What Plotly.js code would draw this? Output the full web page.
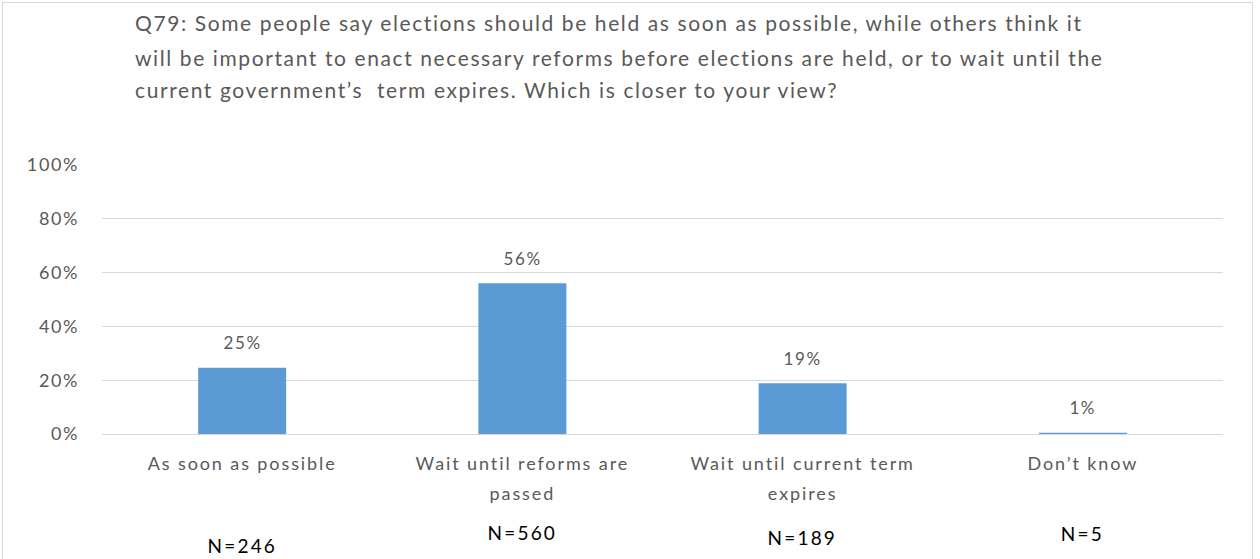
<!DOCTYPE html>
<html>
<head>
<meta charset="utf-8">
<script src="https://cdn.plot.ly/plotly-3.0.1.min.js"></script>
<style>
  html, body { margin: 0; padding: 0; background: #fff; }
  #wrap { position: relative; width: 1260px; height: 559px; overflow: hidden; }
  #chart { position: absolute; left: 0; top: 0; width: 1260px; height: 559px; }
  #frame { position: absolute; left: 2px; top: 2px; width: 1249px; height: 600px; border: 1px solid #d9d9d9; pointer-events: none; }
  #chart .xtick text { letter-spacing: 1.9px; }
  #chart .ytick text { letter-spacing: 1.6px; }
  #chart .annotation-text { letter-spacing: 1.6px; }
</style>
</head>
<body>
<div id="wrap">
  <div id="chart"></div>
  <div id="frame"></div>
</div>
<script>
const titleLines = [
  "Q79: Some people say elections should be held as soon as possible, while others think it",
  "will be important to enact necessary reforms before elections are held, or to wait until the",
  "current government\u2019s  term expires. Which is closer to your view?"
];
const categories = [
  "As soon as possible",
  "Wait until reforms are<br>passed",
  "Wait until current term<br>expires",
  "Don\u2019t know"
];
const sampleCounts = [246, 560, 189, 5];
const sampleLabels = ["N=246", "N=560", "N=189", "N=5"];
// shares in percent (N / 1000), shown rounded in the labels
const values = [24.6, 56.0, 18.9, 0.5];
const valueLabels = ["25%", "56%", "19%", "1%"];
const sampleOffsets = [-111, -98, -103, -99];

const grey = "#595959";
const fontFam = "Lato, 'Open Sans', sans-serif";

const annotations = [];
titleLines.forEach((t, i) => {
  annotations.push({
    text: t, xref: "paper", yref: "paper", x: (133 - 102) / 1121, y: 1,
    xanchor: "left", yanchor: "middle", showarrow: false,
    width: 1080, align: "left",
    yshift: [143, 108, 76][i],
    font: { family: fontFam, size: 21, color: grey }
  });
});
values.forEach((v, i) => {
  annotations.push({
    text: valueLabels[i], x: categories[i], y: v, xref: "x", yref: "y",
    yanchor: "middle", xanchor: "center", showarrow: false, yshift: 25,
    font: { family: fontFam, size: 17, color: grey }
  });
  annotations.push({
    text: sampleLabels[i], x: categories[i], y: 0, xref: "x", yref: "paper",
    yanchor: "middle", xanchor: "center", showarrow: false, yshift: sampleOffsets[i],
    font: { family: fontFam, size: 19, color: "#000" }
  });
});

const trace = {
  type: "bar",
  x: categories,
  y: values,
  marker: { color: "#5b9bd5" },
  hoverinfo: "skip"
};

const layout = {
  width: 1260, height: 559,
  margin: { l: 102, r: 37, t: 165, b: 125 },
  paper_bgcolor: "#fff", plot_bgcolor: "#fff",
  showlegend: false,
  bargap: 0.686,
  xaxis: {
    type: "category",
    showgrid: false, zeroline: false, showline: false,
    ticks: "", ticklabelstandoff: 17,
    tickfont: { family: fontFam, size: 18, color: grey },
    fixedrange: true
  },
  yaxis: {
    range: [0, 100], dtick: 20, ticksuffix: "%",
    showgrid: true, gridcolor: "#d9d9d9", gridwidth: 1,
    zeroline: true, zerolinecolor: "#d9d9d9", zerolinewidth: 1,
    showline: false, ticks: "", ticklabelstandoff: 22,
    tickfont: { family: fontFam, size: 18, color: grey },
    fixedrange: true
  },
  annotations: annotations
};

Plotly.newPlot("chart", [trace], layout, { displayModeBar: false, staticPlot: true }).then(() => {
  // widen spacing between the lines of wrapped category labels
  document.querySelectorAll("#chart .xtick text tspan.line").forEach(t => {
    const dy = parseFloat(t.getAttribute("dy") || "0");
    if (dy > 0) t.setAttribute("dy", "1.65em");
  });
  // sample-size labels are spaced a little wider
  document.querySelectorAll("#chart .annotation-text").forEach(t => {
    if (t.textContent.indexOf("N=") === 0) t.style.letterSpacing = "2.2px";
  });
});
</script>
</body>
</html>
